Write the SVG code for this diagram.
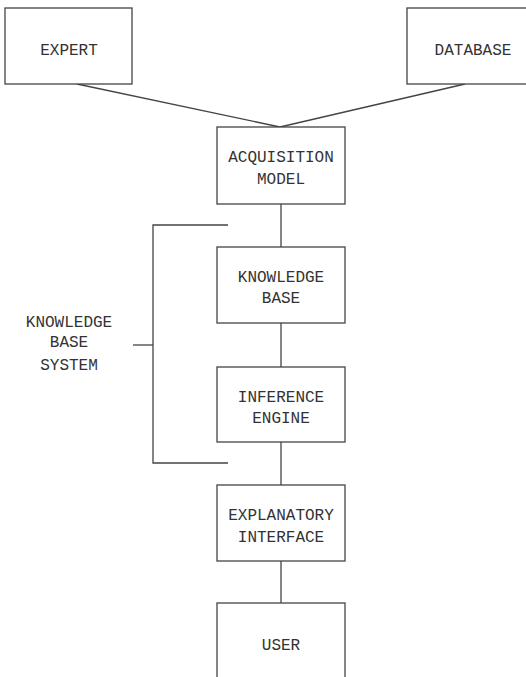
<svg xmlns="http://www.w3.org/2000/svg" width="526" height="677" viewBox="0 0 526 677">
<style>
.box{fill:#fff;stroke:#444;stroke-width:1.3}
.ln{fill:none;stroke:#444;stroke-width:1.3}
text{font-family:"Liberation Mono","Courier New",monospace;font-size:16px;fill:#333;text-anchor:middle}
</style>
<rect width="526" height="677" fill="#fff"/>
<g id="connectors">
<line class="ln" x1="77" y1="84" x2="280" y2="127"/>
<line class="ln" x1="465" y1="84" x2="280" y2="127"/>
<line class="ln" x1="281" y1="204" x2="281" y2="247"/>
<line class="ln" x1="281" y1="323" x2="281" y2="367"/>
<line class="ln" x1="281" y1="442" x2="281" y2="485"/>
<line class="ln" x1="281" y1="561" x2="281" y2="603"/>
</g>
<g id="bracket">
<polyline class="ln" points="228,225 153,225 153,463 228,463"/>
<line class="ln" x1="133" y1="345" x2="153" y2="345"/>
<text x="69" y="327">KNOWLEDGE</text>
<text x="69" y="347">BASE</text>
<text x="69" y="370">SYSTEM</text>
</g>
<g id="expert"><rect class="box" x="5" y="8" width="127" height="76"/><text x="69" y="55">EXPERT</text></g>
<g id="database"><rect class="box" x="407" y="8" width="130" height="76"/><text x="473" y="55">DATABASE</text></g>
<g id="acquisition"><rect class="box" x="217" y="127" width="128" height="77"/><text x="281" y="162">ACQUISITION</text><text x="281" y="184">MODEL</text></g>
<g id="knowledge"><rect class="box" x="217" y="247" width="128" height="76"/><text x="281" y="282">KNOWLEDGE</text><text x="281" y="303">BASE</text></g>
<g id="inference"><rect class="box" x="217" y="367" width="128" height="75"/><text x="281" y="402">INFERENCE</text><text x="281" y="423">ENGINE</text></g>
<g id="explanatory"><rect class="box" x="217" y="485" width="128" height="76"/><text x="281" y="520">EXPLANATORY</text><text x="281" y="542">INTERFACE</text></g>
<g id="user"><rect class="box" x="217" y="603" width="128" height="90"/><text x="281" y="650">USER</text></g>
</svg>
